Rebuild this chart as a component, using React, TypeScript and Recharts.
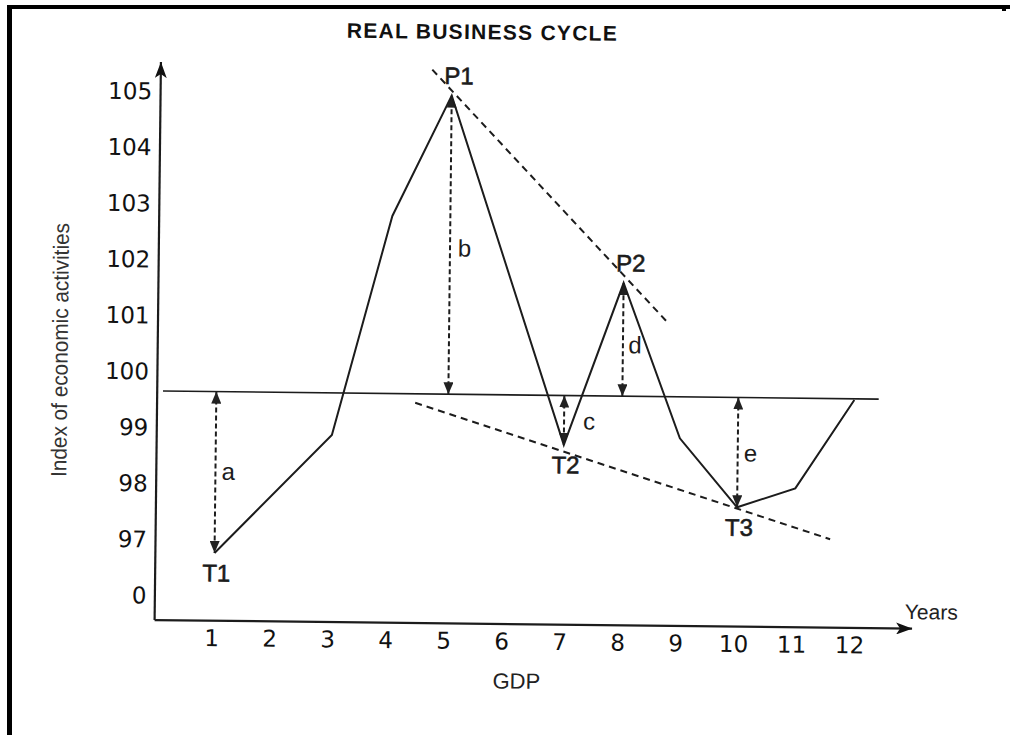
import { LineChart, Line, XAxis, YAxis, ReferenceLine, ReferenceDot } from 'recharts';

// GDP index at each turn of the cycle
const years = [1, 3, 4, 5, 7, 8, 9, 10, 11, 12];
const activity = [96.77, 98.9, 102.82, 104.98, 98.77, 101.67, 98.91, 97.69, 98.04, 99.63];
const turningPoints = ['T1', '', '', 'P1', 'T2', 'P2', '', 'T3', '', ''];

const xTicks = [1, 2, 3, 4, 5, 6, 7, 8, 9, 10, 11, 12];
const yTicks = [96, 97, 98, 99, 100, 101, 102, 103, 104, 105];
const yTickLabels = ['0', '97', '98', '99', '100', '101', '102', '103', '104', '105'];

const xDomain = [-0.02, 13.04];
const yDomain = [95.56, 105.52];

// long-run trend and the dashed lines joining peaks / troughs
const trendLevel = 99.65;
const trendSpan = [0.08, 12.42];
const peakLine = [
  { x: 4.66, y: 105.44 },
  { x: 8.78, y: 100.96 },
];
const troughLine = [
  { x: 4.43, y: 99.49 },
  { x: 11.61, y: 97.14 },
];

// deviations from trend
const gapNames = ['a', 'b', 'c', 'd', 'e'];
const gapYears = [1, 5, 7, 8, 10];
const gapLabelX = [1.22, 5.25, 7.43, 8.21, 10.22];
const gapLabelY = [98.23, 102.26, 99.2, 100.57, 98.66];

const chartData = years.map((year, i) => ({ year, value: activity[i] }));

const FONT = "'Liberation Sans', Arial, sans-serif";
const INK = '#1c1c1c';

const segmentShape = (dash?: string, start?: string, end?: string, width = 2) => (p: any) => (
  <line
    x1={p.x1}
    y1={p.y1}
    x2={p.x2}
    y2={p.y2}
    stroke={INK}
    strokeWidth={width}
    strokeDasharray={dash}
    markerStart={start ? `url(#${start})` : undefined}
    markerEnd={end ? `url(#${end})` : undefined}
  />
);

const textShape = (txt: string, dx: number, dy: number, size: number, heavy = false) => (p: any) => (
  <text
    x={p.cx + dx}
    y={p.cy + dy}
    textAnchor="middle"
    dominantBaseline="central"
    fontFamily={FONT}
    fontSize={size}
    fill={INK}
    stroke={heavy ? INK : undefined}
    strokeWidth={heavy ? 0.6 : undefined}
  >
    {txt}
  </text>
);

export default function App() {
  return (
    <div style={{ position: 'absolute', left: 0, top: 0, width: 1010, height: 735, background: '#fff', overflow: 'hidden' }}>
      <div style={{ position: 'absolute', left: 7, top: 5, width: 1010, height: 740, borderTop: '4px solid #000', borderLeft: '5px solid #000' }} />
      <div style={{ position: 'absolute', left: 1002, top: 5, width: 4, height: 6, background: '#000' }} />

      <div style={{ position: 'absolute', left: 0, top: 0, width: 1010, height: 735, transform: 'rotate(0.65deg)', transformOrigin: '505px 367px' }}>
        <svg width={1010} height={735} style={{ position: 'absolute', left: 0, top: 0, pointerEvents: 'none' }}>
          <defs>
            <marker id="tip" viewBox="0 0 12 10" refX={12} refY={5} markerWidth={12} markerHeight={10} markerUnits="userSpaceOnUse" orient="auto-start-reverse">
              <path d="M0,0 L12,5 L0,10 z" fill="#222" />
            </marker>
            <marker id="axisTip" viewBox="0 0 16 12" refX={16} refY={6} markerWidth={16} markerHeight={12} markerUnits="userSpaceOnUse" orient="auto-start-reverse">
              <path d="M0,0 L16,6 L0,12 L4,6 z" fill="#111" />
            </marker>
          </defs>
        </svg>

        <LineChart width={1010} height={735} data={chartData} margin={{ top: 66, right: 95, bottom: 71, left: 77.5 }}>
          <XAxis
            dataKey="year"
            type="number"
            domain={xDomain}
            ticks={xTicks}
            allowDataOverflow
            axisLine={false}
            tickLine={false}
            tickSize={6}
            tickMargin={3}
            height={40}
            tick={{ fill: '#111', fontSize: 23, fontFamily: 'DejaVu Sans', dx: -2 }}
          />
          <YAxis
            type="number"
            domain={yDomain}
            ticks={yTicks}
            allowDataOverflow
            axisLine={false}
            tickLine={false}
            tickSize={6}
            tickMargin={2.5}
            width={80}
            tickFormatter={(v: number) => yTickLabels[yTicks.indexOf(v)]}
            tick={{ fill: '#111', fontSize: 23, fontFamily: 'DejaVu Sans' }}
          />

          <ReferenceLine
            segment={[{ x: xDomain[0], y: yDomain[0] }, { x: xDomain[1], y: yDomain[0] }]}
            ifOverflow="visible"
            shape={segmentShape(undefined, undefined, 'axisTip', 2.2)}
          />
          <ReferenceLine
            segment={[{ x: xDomain[0], y: yDomain[0] }, { x: xDomain[0], y: yDomain[1] }]}
            ifOverflow="visible"
            shape={segmentShape(undefined, undefined, 'axisTip', 2.2)}
          />

          <ReferenceLine
            segment={[{ x: trendSpan[0], y: trendLevel }, { x: trendSpan[1], y: trendLevel }]}
            ifOverflow="visible"
            shape={segmentShape(undefined, undefined, undefined, 1.6)}
          />
          <ReferenceLine segment={peakLine} ifOverflow="visible" shape={segmentShape('7 5', undefined, undefined, 2)} />
          <ReferenceLine segment={troughLine} ifOverflow="visible" shape={segmentShape('7 5', undefined, undefined, 2)} />

          {gapYears.map((yr) => (
            <ReferenceLine
              key={`gap-${yr}`}
              segment={[{ x: yr, y: trendLevel }, { x: yr, y: activity[years.indexOf(yr)] }]}
              ifOverflow="visible"
              shape={segmentShape('5 3', 'tip', 'tip', 2)}
            />
          ))}

          <Line
            type="linear"
            dataKey="value"
            stroke={INK}
            strokeWidth={2}
            dot={false}
            activeDot={false}
            isAnimationActive={false}
          />

          {years.map((yr, i) =>
            turningPoints[i] ? (
              <ReferenceDot
                key={`tp-${yr}`}
                x={yr}
                y={activity[i]}
                ifOverflow="visible"
                shape={textShape(
                  turningPoints[i],
                  turningPoints[i][0] === 'P' ? 7 : 2,
                  turningPoints[i][0] === 'P' ? -20 : 20,
                  24,
                  true
                )}
              />
            ) : null
          )}

          {gapNames.map((name, i) => (
            <ReferenceDot
              key={`gl-${name}`}
              x={gapLabelX[i]}
              y={gapLabelY[i]}
              ifOverflow="visible"
              shape={textShape(name, 0, 0, 24)}
            />
          ))}
        </LineChart>

        <svg width={1010} height={735} style={{ position: 'absolute', left: 0, top: 0, pointerEvents: 'none' }}>
          <text x={478} y={32} textAnchor="middle" dominantBaseline="central" fontFamily={FONT} fontWeight="bold" fontSize={21} fill="#111" textLength={270} lengthAdjust="spacing">
            REAL BUSINESS CYCLE
          </text>
          <text
            x={60}
            y={355}
            transform="rotate(-90 60 355)"
            textAnchor="middle"
            dominantBaseline="central"
            fontFamily={FONT}
            fontSize={22}
            fill="#333"
            textLength={254}
            lengthAdjust="spacingAndGlyphs"
          >
            Index of economic activities
          </text>
          <text x={520} y={681} textAnchor="middle" dominantBaseline="central" fontFamily={FONT} fontSize={22} fill="#222">
            GDP
          </text>
          <text x={934} y={607} textAnchor="middle" dominantBaseline="central" fontFamily={FONT} fontSize={21} fill="#222">
            Years
          </text>
        </svg>
      </div>
    </div>
  );
}
